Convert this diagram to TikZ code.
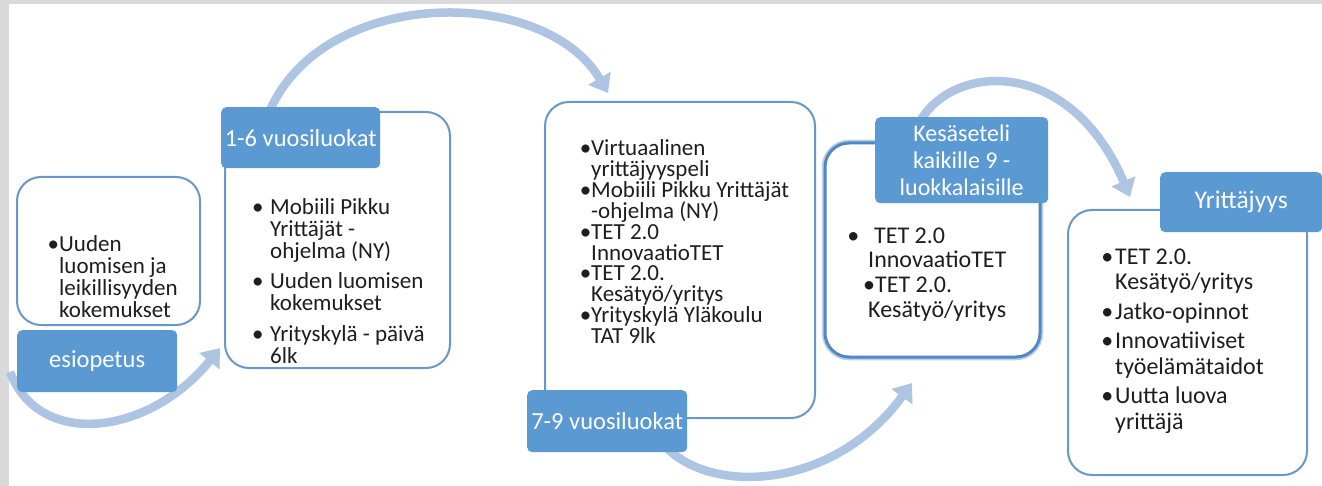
\documentclass[tikz,border=0pt]{standalone}
\usepackage{fontspec}
\setmainfont{Carlito}
\usetikzlibrary{arrows.meta}
\definecolor{lblc}{HTML}{5A99D2}
\definecolor{boxc}{HTML}{6898C8}
\definecolor{kesc}{HTML}{5188C2}
\definecolor{glowc}{HTML}{B9D0EA}
\definecolor{arrc}{HTML}{ADC4E3}
\definecolor{txtc}{HTML}{1E1E1E}
\definecolor{framec}{HTML}{D9D9D9}
\begin{document}
\begin{tikzpicture}[x=1pt,y=-1pt,
  cbox/.style={draw=boxc, line width=2pt, fill=white, rounded corners=24pt, anchor=north west, inner sep=0pt, outer sep=0pt},
  kbox/.style={cbox, draw=kesc, line width=3pt, preaction={draw=glowc, line width=6.5pt}},
  lbl/.style={fill=lblc, draw=none, rounded corners=5pt, text=white, anchor=north west, inner sep=0pt, align=center, font={\fontsize{24.5}{27}\selectfont}},
  arr/.style={draw=arrc, line width=8.5pt, -{Triangle[width=25pt,length=17pt]}},
  ctext/.style={anchor=base west, inner sep=0pt, text=txtc, align=left, font={\fontsize{23}{21.7}\selectfont\lineskiplimit=-100pt}},
  ctextb/.style={ctext, font={\fontsize{24}{25.5}\selectfont\lineskiplimit=-100pt}},
]
\useasboundingbox (0,0) rectangle (1322,486);
\fill[framec] (0,0) rectangle (1322,486);
\fill[white] (9,4) rectangle (1322,486);

% arrow end points
\coordinate (a1s) at (10,372);
\coordinate (a1e) at (220,348);
\coordinate (a2s) at (268,115);
\coordinate (a2e) at (608,93);
\coordinate (a3s) at (660,440);
\coordinate (a3e) at (912,383);
\coordinate (a4s) at (918,125);
\coordinate (a4e) at (1130,197);

\draw[arr] (a1s) .. controls (40,450) and (150,435) .. (a1e);
\draw[arr] (a2s) .. controls (320,-15) and (545,-15) .. (a2e);
\draw[arr] (a3s) .. controls (700,495) and (830,495) .. (a3e);
\draw[arr] (a4s) .. controls (950,62) and (1070,55) .. (a4e);

% content boxes
\node[cbox, minimum width=183pt, minimum height=148pt] (esiobox) at (17,177) {};
\node[cbox, minimum width=225pt, minimum height=256pt] (b16box) at (225,112) {};
\node[cbox, minimum width=270pt, minimum height=316pt] (b79box) at (545,102) {};
\node[kbox, minimum width=215pt, minimum height=214pt] (kesbox) at (825,143) {};
\node[cbox, minimum width=239pt, minimum height=265pt] (yribox) at (1068,210) {};

% labels
\node[lbl, minimum width=160pt, minimum height=62pt] (esiolbl) at (17,330) {esiopetus};
\node[lbl, minimum width=159pt, minimum height=61pt] (b16lbl) at (221,107) {1-6 vuosiluokat};
\node[lbl, minimum width=160pt, minimum height=62pt] (b79lbl) at (527,390) {7-9 vuosiluokat};
\node[lbl, minimum width=173pt, minimum height=86pt, font={\fontsize{24}{27}\selectfont}] (keslbl) at (875,117) {Kesäseteli\\kaikille 9 -\\luokkalaisille};
\node[lbl, minimum width=162pt, minimum height=60pt, font={\fontsize{25.5}{27}\selectfont}] (yrilbl) at (1160,172) {Yrittäjyys};

% texts (anchored at the baseline of their last line)
\node[ctext] (esiotxt) at (59,317) {\llap{•}Uuden\\luomisen ja\\leikillisyyden\\kokemukset};
\node[ctext] (b16txt) at (270,363) {\llap{•\hspace{6.5pt}}Mobiili Pikku\\Yrittäjät -\\ohjelma (NY)\\[9pt]\llap{•\hspace{6.5pt}}Uuden luomisen\\kokemukset\\[9pt]\llap{•\hspace{6.5pt}}Yrityskylä - päivä\\6lk};
\node[ctext, font={\fontsize{23}{20.8}\selectfont\lineskiplimit=-100pt}] (b79txt) at (591,343.2) {\llap{•}Virtuaalinen\\yrittäjyyspeli\\\llap{•}Mobiili Pikku Yrittäjät\\-ohjelma (NY)\\\llap{•}TET 2.0\\InnovaatioTET\\\llap{•}TET 2.0.\\Kesätyö/yritys\\\llap{•}Yrityskylä Yläkoulu\\TAT 9lk};
\node[ctextb, font={\fontsize{24}{24.7}\selectfont\lineskiplimit=-100pt}] (kestxt) at (868,317.1) {\llap{•\hspace{9pt}}\hspace*{6pt}TET 2.0\\InnovaatioTET\\\hspace*{-5pt}•TET 2.0.\\Kesätyö/yritys};
\node[ctextb] (yritxt) at (1115,429) {\llap{•\hspace{2pt}}TET 2.0.\\Kesätyö/yritys\\[4pt]\llap{•\hspace{2pt}}Jatko-opinnot\\[4pt]\llap{•\hspace{2pt}}Innovatiiviset\\työelämätaidot\\[4pt]\llap{•\hspace{2pt}}Uutta luova\\yrittäjä};
\end{tikzpicture}
\end{document}
